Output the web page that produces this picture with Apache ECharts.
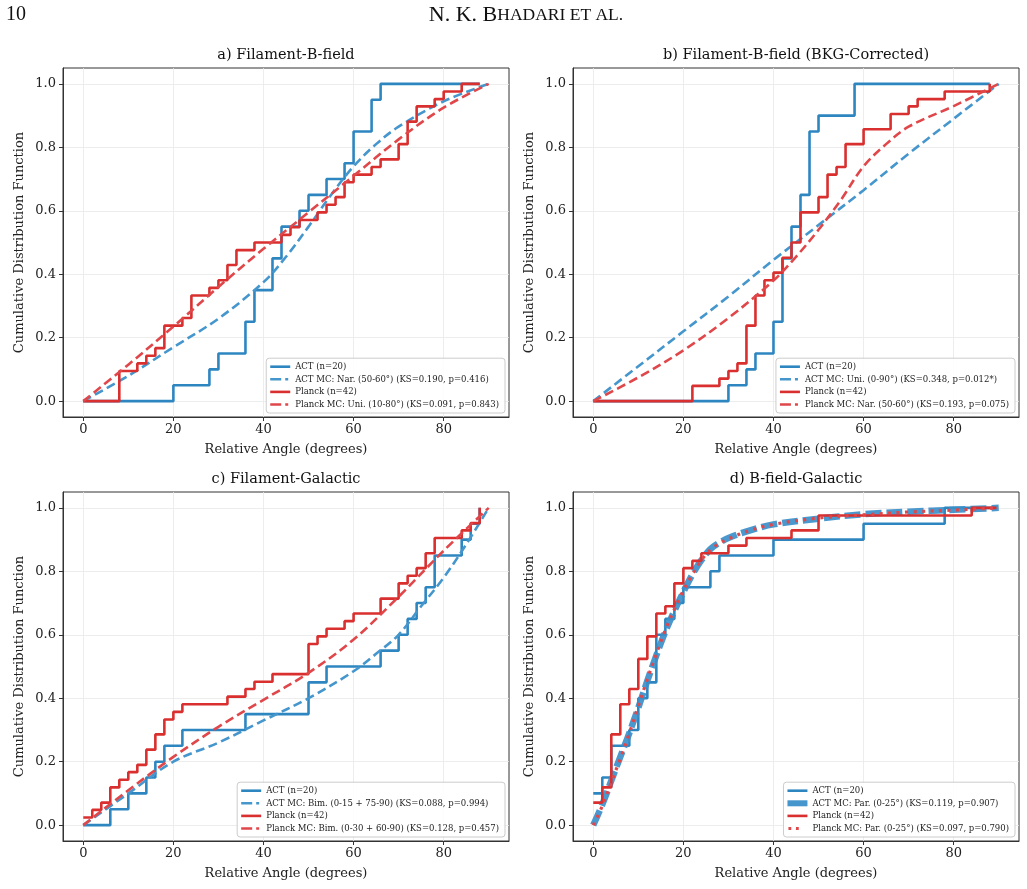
<!DOCTYPE html>
<html>
<head>
<meta charset="utf-8">
<script src="https://cdn.jsdelivr.net/npm/echarts@6/dist/echarts.min.js"></script>
<style>html,body{margin:0;padding:0;background:#fff}#c{width:1027px;height:889px}</style>
</head>
<body>
<div id="c"></div>
<script>
// ---------- tick labels ----------
const xTicks = [0, 20, 40, 60, 80];
const yTicks = [0, 0.2, 0.4, 0.6, 0.8, 1.0];

// ---------- panel titles ----------
const panelTitles = ['a) Filament-B-field', 'b) Filament-B-field (BKG-Corrected)', 'c) Filament-Galactic', 'd) B-field-Galactic'];
const actName = 'ACT (n=20)';
const planckName = 'Planck (n=42)';
const actMCNames = ['ACT MC: Nar. (50-60°) (KS=0.190, p=0.416)', 'ACT MC: Uni. (0-90°) (KS=0.348, p=0.012*)', 'ACT MC: Bim. (0-15 + 75-90) (KS=0.088, p=0.994)', 'ACT MC: Par. (0-25°) (KS=0.119, p=0.907)'];
const planckMCNames = ['Planck MC: Uni. (10-80°) (KS=0.091, p=0.843)', 'Planck MC: Nar. (50-60°) (KS=0.193, p=0.075)', 'Planck MC: Bim. (0-30 + 60-90) (KS=0.128, p=0.457)', 'Planck MC: Par. (0-25°) (KS=0.097, p=0.790)'];

// ---------- a) Filament-B-field ----------
const actA_x = [0, 20, 28, 30, 36, 38, 42, 44, 48, 50, 54, 58, 60, 64, 66, 88];
const actA_y = [0, 0.05, 0.10, 0.15, 0.25, 0.35, 0.45, 0.55, 0.60, 0.65, 0.70, 0.75, 0.85, 0.95, 1.00, 1.00];
const planckA_x = [0, 8, 12, 14, 16, 18, 22, 24, 28, 30, 32, 34, 38, 44, 46, 48, 52, 54, 56, 58, 60, 64, 66, 70, 72, 74, 78, 80, 84, 88];
const planckA_y = [0, 0.095, 0.119, 0.143, 0.167, 0.238, 0.262, 0.333, 0.357, 0.381, 0.429, 0.476, 0.5, 0.524, 0.548, 0.571, 0.595, 0.619, 0.643, 0.690, 0.714, 0.738, 0.762, 0.810, 0.881, 0.929, 0.952, 0.976, 1.0, 1.0];
const actMCA_x = [0, 10, 20, 30, 40, 45, 50, 55, 60, 65, 70, 80, 90];
const actMCA_y = [0, 0.08, 0.17, 0.26, 0.375, 0.455, 0.55, 0.65, 0.74, 0.81, 0.865, 0.945, 1.0];
const planckMCA_x = [0, 10, 20, 30, 40, 50, 60, 70, 80, 90];
const planckMCA_y = [0, 0.115, 0.235, 0.36, 0.48, 0.595, 0.71, 0.825, 0.925, 1.0];

// ---------- b) Filament-B-field (BKG-Corrected) ----------
const actB_x = [0, 30, 34, 36, 40, 42, 44, 46, 48, 50, 58, 88];
const actB_y = [0, 0.05, 0.10, 0.15, 0.25, 0.45, 0.55, 0.65, 0.85, 0.90, 1.0, 1.0];
const planckB_x = [0, 22, 28, 30, 32, 34, 36, 38, 40, 42, 44, 46, 50, 52, 54, 56, 60, 66, 70, 72, 78, 88];
const planckB_y = [0, 0.048, 0.071, 0.095, 0.119, 0.238, 0.333, 0.381, 0.405, 0.452, 0.5, 0.595, 0.643, 0.714, 0.738, 0.810, 0.857, 0.905, 0.929, 0.952, 0.976, 1.0];
const actMCB_x = [0, 10, 20, 30, 40, 50, 60, 70, 80, 90];
const actMCB_y = [0, 0.11, 0.22, 0.33, 0.445, 0.555, 0.665, 0.78, 0.89, 1.0];
const planckMCB_x = [0, 10, 20, 30, 40, 45, 50, 55, 60, 65, 70, 80, 90];
const planckMCB_y = [0, 0.075, 0.16, 0.262, 0.38, 0.455, 0.54, 0.635, 0.74, 0.81, 0.865, 0.93, 1.0];

// ---------- c) Filament-Galactic ----------
const actC_x = [0, 6, 10, 14, 16, 18, 22, 36, 50, 54, 66, 70, 72, 74, 76, 78, 84, 86, 88];
const actC_y = [0, 0.05, 0.10, 0.15, 0.20, 0.25, 0.30, 0.35, 0.45, 0.50, 0.55, 0.60, 0.65, 0.70, 0.75, 0.85, 0.90, 0.95, 1.0];
const planckC_x = [0, 2, 4, 6, 8, 10, 12, 14, 16, 18, 20, 22, 32, 36, 38, 42, 50, 52, 54, 58, 60, 66, 70, 72, 74, 76, 78, 84, 86, 88];
const planckC_y = [0.024, 0.048, 0.071, 0.119, 0.143, 0.167, 0.190, 0.238, 0.286, 0.333, 0.357, 0.381, 0.405, 0.429, 0.452, 0.476, 0.571, 0.595, 0.619, 0.643, 0.667, 0.714, 0.762, 0.786, 0.810, 0.857, 0.905, 0.929, 0.952, 1.0];
const actMCC_x = [0, 10, 20, 30, 40, 50, 60, 65, 70, 75, 80, 85, 90];
const actMCC_y = [0, 0.10, 0.20, 0.26, 0.33, 0.40, 0.485, 0.54, 0.60, 0.69, 0.78, 0.885, 1.0];
const planckMCC_x = [0, 10, 20, 30, 40, 50, 60, 70, 80, 90];
const planckMCC_y = [0, 0.11, 0.215, 0.31, 0.395, 0.48, 0.585, 0.72, 0.865, 1.0];

// ---------- d) B-field-Galactic ----------
const actD_x = [0, 2, 4, 8, 10, 12, 14, 16, 18, 20, 26, 28, 40, 60, 78, 89.5];
const actD_y = [0.10, 0.15, 0.25, 0.30, 0.40, 0.45, 0.60, 0.65, 0.70, 0.75, 0.80, 0.85, 0.90, 0.95, 1.0, 1.0];
const planckD_x = [0, 2, 4, 6, 8, 10, 12, 14, 16, 18, 20, 22, 24, 30, 34, 44, 50, 84, 89.5];
const planckD_y = [0.071, 0.119, 0.286, 0.381, 0.429, 0.524, 0.595, 0.667, 0.690, 0.762, 0.810, 0.833, 0.857, 0.881, 0.905, 0.929, 0.976, 1.0, 1.0];
const mcD_x = [0, 2, 4, 6, 8, 10, 12, 14, 16, 18, 20, 22, 24, 26, 28, 30, 35, 40, 50, 60, 70, 80, 90];
const actMCD_y = [0, 0.065, 0.14, 0.215, 0.29, 0.37, 0.455, 0.535, 0.61, 0.675, 0.735, 0.79, 0.835, 0.87, 0.89, 0.905, 0.93, 0.948, 0.966, 0.98, 0.988, 0.994, 1.0];
const planckMCD_y = [0, 0.06, 0.135, 0.21, 0.29, 0.375, 0.46, 0.54, 0.615, 0.68, 0.74, 0.79, 0.835, 0.868, 0.888, 0.903, 0.93, 0.948, 0.968, 0.978, 0.987, 0.993, 1.0];

// ---------- assembly ----------
const pair = (xs, ys) => xs.map((x, i) => [x, ys[i]]);
const BLUE = '#2e86c1', RED = '#d92f2f', BLUE_MC = '#4596cc', RED_MC = '#e0474a';
const SERIF = "'DejaVu Serif', serif";

// legend handles (20 x 8 boxes)
const ICON_SOLID = 'path://M0,0L0,0M0,2.7H20V5.3H0ZM20,8L20,8';
const ICON_DASH = 'path://M0,0L0,0M0,2.7H11V5.3H0ZM15,2.7H18V5.3H15ZM20,8L20,8';
const ICON_THICK = 'path://M0,0L0,0M0,1H20V7H0ZM20,8L20,8';
const ICON_DOT = 'path://M0,0L0,0M1,2.6H3.8V5.4H1ZM8.5,2.6H11.3V5.4H8.5ZM20,8L20,8';

const panels = [
  {act: pair(actA_x, actA_y), planck: pair(planckA_x, planckA_y), actMC: pair(actMCA_x, actMCA_y), planckMC: pair(planckMCA_x, planckMCA_y)},
  {act: pair(actB_x, actB_y), planck: pair(planckB_x, planckB_y), actMC: pair(actMCB_x, actMCB_y), planckMC: pair(planckMCB_x, planckMCB_y)},
  {act: pair(actC_x, actC_y), planck: pair(planckC_x, planckC_y), actMC: pair(actMCC_x, actMCC_y), planckMC: pair(planckMCC_x, planckMCC_y)},
  {act: pair(actD_x, actD_y), planck: pair(planckD_x, planckD_y), actMC: pair(mcD_x, actMCD_y), planckMC: pair(mcD_x, planckMCD_y)}
];

const gridBoxes = [
  {left: 63, top: 68}, {left: 573, top: 68}, {left: 63, top: 492}, {left: 573, top: 492}
];
const GW = 446, GH = 349;

const grid = [], xAxis = [], yAxis = [], series = [], legend = [], graphic = [];

gridBoxes.forEach((g, i) => {
  grid.push({left: g.left, top: g.top, width: GW, height: GH, show: true, borderColor: '#333', borderWidth: 1, backgroundColor: 'transparent'});
  xAxis.push({
    type: 'value', gridIndex: i, min: -4.5, max: 94.5,
    splitLine: {show: false},
    axisLine: {show: true, onZero: false, lineStyle: {color: '#333', width: 1}},
    axisTick: {show: true, inside: false, length: 4, lineStyle: {color: '#333'}, customValues: xTicks},
    axisLabel: {show: true, customValues: xTicks, fontFamily: SERIF, fontSize: 13, color: '#222', margin: 6, formatter: v => String(v)},
    name: 'Relative Angle (degrees)', nameLocation: 'middle', nameGap: 26,
    nameTextStyle: {fontFamily: SERIF, fontSize: 13, color: '#222'}
  });
  yAxis.push({
    type: 'value', gridIndex: i, min: -0.05, max: 1.05,
    splitLine: {show: false},
    axisLine: {show: true, onZero: false, lineStyle: {color: '#333', width: 1}},
    axisTick: {show: true, inside: false, length: 4, lineStyle: {color: '#333'}, customValues: yTicks},
    axisLabel: {show: true, customValues: yTicks, fontFamily: SERIF, fontSize: 13, color: '#222', margin: 7, formatter: v => v.toFixed(1)},
    name: 'Cumulative Distribution Function', nameLocation: 'middle', nameGap: 37, nameRotate: 90,
    nameTextStyle: {fontFamily: SERIF, fontSize: 13, color: '#222'}
  });
  // grid lines through the axes' own scales (kept below the data)
  series.push({
    type: 'line', xAxisIndex: i, yAxisIndex: i, data: [], silent: true, z: 0,
    markLine: {
      silent: true, symbol: ['none', 'none'], animation: false, z: 0,
      label: {show: false},
      lineStyle: {color: '#e8e8e8', width: 0.8, type: 'solid'},
      data: xTicks.map(v => ({xAxis: v})).concat(yTicks.map(v => ({yAxis: v})))
    }
  });
  const p = panels[i];
  series.push({name: actName, type: 'line', step: 'end', xAxisIndex: i, yAxisIndex: i, data: p.act, symbol: 'none', z: 2,
    lineStyle: {color: BLUE, width: 2.6}, itemStyle: {color: BLUE}});
  if (i === 3) {
    series.push({name: actMCNames[i], type: 'line', smooth: 0.35, xAxisIndex: i, yAxisIndex: i, data: p.actMC, symbol: 'none', z: 3,
      lineStyle: {color: '#3b8fc9', width: 6.5, type: [16, 5], opacity: 0.92}, itemStyle: {color: BLUE_MC}});
  } else {
    series.push({name: actMCNames[i], type: 'line', smooth: 0.35, xAxisIndex: i, yAxisIndex: i, data: p.actMC, symbol: 'none', z: 3,
      lineStyle: {color: BLUE_MC, width: 2.6, type: [9, 4.5]}, itemStyle: {color: BLUE_MC}});
  }
  series.push({name: planckName, type: 'line', step: 'end', xAxisIndex: i, yAxisIndex: i, data: p.planck, symbol: 'none', z: 4,
    lineStyle: {color: RED, width: 2.6}, itemStyle: {color: RED}});
  if (i === 3) {
    series.push({name: planckMCNames[i], type: 'line', smooth: 0.35, xAxisIndex: i, yAxisIndex: i, data: p.planckMC, symbol: 'none', z: 5,
      lineStyle: {color: RED_MC, width: 3.2, type: [3, 5.5]}, itemStyle: {color: RED_MC}});
  } else {
    series.push({name: planckMCNames[i], type: 'line', smooth: 0.35, xAxisIndex: i, yAxisIndex: i, data: p.planckMC, symbol: 'none', z: 5,
      lineStyle: {color: RED_MC, width: 2.6, type: [9, 4.5]}, itemStyle: {color: RED_MC}});
  }
  legend.push({
    data: [
      {name: actName, icon: ICON_SOLID, itemStyle: {color: BLUE}},
      {name: actMCNames[i], icon: i === 3 ? ICON_THICK : ICON_DASH, itemStyle: {color: BLUE_MC}},
      {name: planckName, icon: ICON_SOLID, itemStyle: {color: RED}},
      {name: planckMCNames[i], icon: i === 3 ? ICON_DOT : ICON_DASH, itemStyle: {color: RED_MC}}
    ],
    orient: 'vertical', selectedMode: false,
    right: 1027 - (g.left + GW) + 4, bottom: 889 - (g.top + GH) + 4,
    itemWidth: 20, itemHeight: 8, itemGap: 3.6,
    padding: [4, 6, 4, 4],
    backgroundColor: 'rgba(255,255,255,0.85)', borderColor: '#cccccc', borderWidth: 1, borderRadius: 3,
    textStyle: {fontFamily: SERIF, fontSize: 8.5, color: '#222'},
    z: 10
  });
  graphic.push({
    type: 'text', x: g.left + GW / 2, y: g.top - 13,
    style: {text: panelTitles[i], fill: '#111', font: "14.5px 'DejaVu Serif', serif", textAlign: 'center', textVerticalAlign: 'middle'}
  });
});

graphic.push({
  type: 'text', x: 6, y: 15,
  style: {text: '10', fill: '#111', font: "20px 'Liberation Serif', serif", textAlign: 'left', textVerticalAlign: 'middle'}
});
graphic.push({
  type: 'text', x: 526, y: 15,
  style: {
    text: '{a|N. K. B}{b|HADARI ET AL.}', textAlign: 'center', textVerticalAlign: 'middle',
    rich: {
      a: {fontFamily: "'Liberation Serif', serif", fontSize: 22, fill: '#111', color: '#111'},
      b: {fontFamily: "'Liberation Serif', serif", fontSize: 17.5, fill: '#111', color: '#111'}
    }
  }
});

const chart = echarts.init(document.getElementById('c'), null, {renderer: 'canvas'});
chart.setOption({
  animation: false,
  backgroundColor: '#fff',
  grid, xAxis, yAxis, series, legend, graphic
});
</script>
</body>
</html>
